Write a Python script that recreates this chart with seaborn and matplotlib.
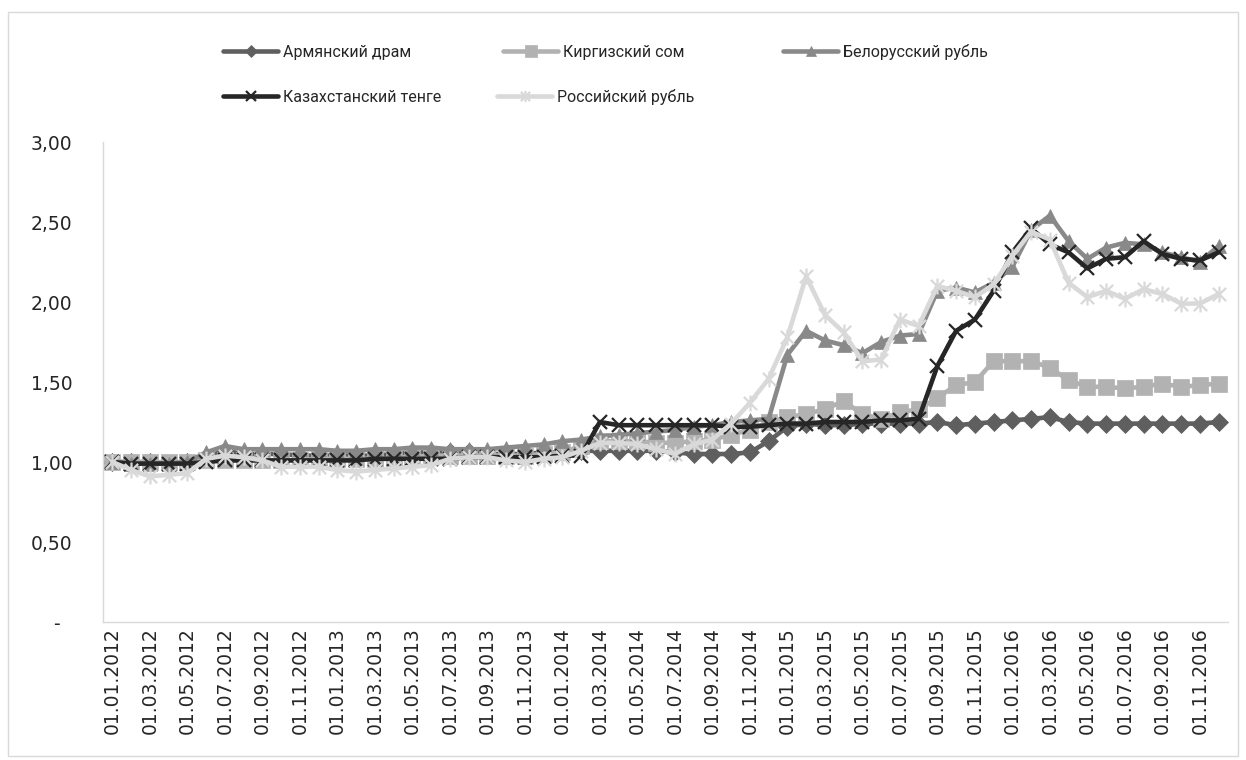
import numpy as np
import pandas as pd
import matplotlib
matplotlib.use("Agg")
import matplotlib.pyplot as plt
import seaborn as sns
from matplotlib.path import Path
from matplotlib.lines import Line2D
from matplotlib.patches import Rectangle
from matplotlib import font_manager

# ---------------- data ----------------
dates = pd.date_range("2012-01-01", periods=60, freq="MS").strftime("%d.%m.%Y").tolist()

armenian = [1.00, 1.00, 1.00, 0.99, 1.00, 1.03, 1.07, 1.05, 1.05, 1.05, 1.04, 1.04,
            1.04, 1.04, 1.04, 1.05, 1.06, 1.06, 1.06, 1.06, 1.05, 1.05, 1.05, 1.06,
            1.06, 1.07, 1.07, 1.07, 1.07, 1.07, 1.06, 1.05, 1.05, 1.05, 1.06, 1.13,
            1.22, 1.24, 1.23, 1.23, 1.24, 1.24, 1.24, 1.24, 1.25, 1.23, 1.24, 1.25,
            1.26, 1.27, 1.28, 1.25, 1.24, 1.24, 1.24, 1.24, 1.24, 1.24, 1.24, 1.25]

kyrgyz = [1.00, 1.00, 1.00, 1.00, 1.00, 1.01, 1.01, 1.01, 1.01, 1.01, 1.01, 1.02,
          1.02, 1.02, 1.02, 1.02, 1.03, 1.04, 1.04, 1.04, 1.04, 1.04, 1.04, 1.05,
          1.06, 1.10, 1.13, 1.13, 1.13, 1.12, 1.12, 1.13, 1.14, 1.17, 1.20, 1.25,
          1.28, 1.30, 1.33, 1.38, 1.30, 1.27, 1.31, 1.33, 1.40, 1.48, 1.50, 1.63,
          1.63, 1.63, 1.59, 1.51, 1.47, 1.47, 1.46, 1.47, 1.49, 1.47, 1.48, 1.49]

belarus = [1.00, 0.99, 0.99, 0.99, 1.00, 1.06, 1.10, 1.08, 1.08, 1.08, 1.08, 1.08,
           1.07, 1.07, 1.08, 1.08, 1.09, 1.09, 1.08, 1.08, 1.08, 1.09, 1.10, 1.11,
           1.13, 1.14, 1.16, 1.17, 1.18, 1.19, 1.20, 1.22, 1.23, 1.25, 1.26, 1.27,
           1.67, 1.82, 1.76, 1.73, 1.68, 1.75, 1.79, 1.80, 2.07, 2.09, 2.06, 2.12,
           2.22, 2.45, 2.54, 2.38, 2.27, 2.34, 2.37, 2.36, 2.31, 2.28, 2.25, 2.35]

kazakh = [1.00, 0.99, 0.99, 0.99, 0.99, 1.00, 1.01, 1.01, 1.01, 1.01, 1.01, 1.01,
          1.01, 1.01, 1.02, 1.02, 1.02, 1.02, 1.02, 1.03, 1.03, 1.03, 1.03, 1.03,
          1.04, 1.04, 1.25, 1.23, 1.23, 1.23, 1.23, 1.23, 1.23, 1.22, 1.22, 1.23,
          1.24, 1.24, 1.25, 1.25, 1.25, 1.26, 1.26, 1.27, 1.60, 1.82, 1.89, 2.07,
          2.31, 2.46, 2.36, 2.31, 2.21, 2.27, 2.28, 2.38, 2.30, 2.27, 2.26, 2.31]

russia = [1.00, 0.95, 0.91, 0.92, 0.93, 1.02, 1.04, 1.03, 1.01, 0.97, 0.97, 0.97,
          0.95, 0.94, 0.95, 0.96, 0.97, 0.98, 1.02, 1.03, 1.03, 1.01, 1.00, 1.02,
          1.03, 1.07, 1.12, 1.12, 1.11, 1.08, 1.05, 1.11, 1.14, 1.24, 1.37, 1.52,
          1.78, 2.16, 1.92, 1.81, 1.63, 1.64, 1.89, 1.85, 2.10, 2.07, 2.03, 2.11,
          2.29, 2.44, 2.39, 2.12, 2.03, 2.07, 2.02, 2.08, 2.05, 1.99, 1.99, 2.05]

series_names = ["Армянский драм", "Киргизский сом", "Белорусский рубль",
                "Казахстанский тенге", "Российский рубль"]
y_ticks = [0, 0.5, 1.0, 1.5, 2.0, 2.5, 3.0]
y_tick_labels = ["-  ", "0,50", "1,00", "1,50", "2,00", "2,50", "3,00"]

# ---------------- style ----------------
sns.set_theme(style="white")
plt.rcParams["font.family"] = ["Roboto", "DejaVu Sans"]

installed = {f.name for f in font_manager.fontManager.ttflist}
legend_family = ["Liberation Sans Narrow", "Roboto", "DejaVu Sans"]
legend_family = [f for f in legend_family if f in installed] or ["DejaVu Sans"]
legend_size = 12.5 if legend_family[0] == "Liberation Sans Narrow" else 11.5

W, H = 1246, 760
fig = plt.figure(figsize=(W / 100, H / 100), dpi=100)
ax = fig.add_axes([103 / W, 1 - 622 / H, (1228 - 103) / W, (622 - 142) / H])

star = Path([(-0.5, -0.5), (0.5, 0.5), (-0.5, 0.5), (0.5, -0.5), (0, -0.6), (0, 0.6)],
            [Path.MOVETO, Path.LINETO, Path.MOVETO, Path.LINETO, Path.MOVETO, Path.LINETO])

styles = [
    dict(color="#5f5f5f", marker="D", ms=9.0, mew=0.5),
    dict(color="#b2b2b2", marker="s", ms=12.0, mew=0.5),
    dict(color="#898989", marker="^", ms=10.5, mew=0.5),
    dict(color="#262626", marker="x", ms=10.5, mew=1.6),
    dict(color="#d9d9d9", marker=star, ms=11.5, mew=1.6),
]
all_values = [armenian, kyrgyz, belarus, kazakh, russia]
x = np.arange(len(dates))

for z, (vals, st) in enumerate(zip(all_values, styles)):
    sns.lineplot(x=x, y=vals, ax=ax, color=st["color"], linewidth=3.3,
                 marker=st["marker"], markersize=st["ms"], markeredgewidth=st["mew"],
                 markeredgecolor=st["color"], markerfacecolor=st["color"],
                 legend=False, zorder=2 + z)

tick_font = dict(family=["DejaVu Sans"], size=13.5)
ax.set_xlim(-0.5, len(dates) - 0.5)
ax.set_ylim(0, 3)
ax.set_xticks(x[::2])
ax.set_xticklabels(dates[::2], rotation=90, fontdict=tick_font)
ax.set_yticks(y_ticks)
ax.set_yticklabels(y_tick_labels, fontdict=tick_font)
ax.tick_params(axis="both", length=0, colors="#262626")
ax.tick_params(axis="x", pad=4)
ax.tick_params(axis="y", pad=22)
ax.set_xlabel("")
ax.set_ylabel("")
ax.grid(False)
for s in ["top", "right"]:
    ax.spines[s].set_visible(False)
for s in ["left", "bottom"]:
    ax.spines[s].set_color("#d9d9d9")
    ax.spines[s].set_linewidth(1.0)

# ---------------- legend (placed entry by entry) ----------------
leg_pos = [(223, 52), (503, 52), (783, 52), (223, 97), (497, 97)]
for name, st, (lx, ly) in zip(series_names, styles, leg_pos):
    h = Line2D([], [], color=st["color"], linewidth=3.3, marker=st["marker"],
               markersize=st["ms"] * 0.7, markeredgewidth=st["mew"],
               markeredgecolor=st["color"], markerfacecolor=st["color"])
    fig.legend(handles=[h], labels=[name], loc="center left",
               bbox_to_anchor=(lx / W, 1 - ly / H), frameon=False,
               handlelength=55 / (legend_size * 100 / 72), handletextpad=5 / (legend_size * 100 / 72),
               borderpad=0, borderaxespad=0,
               prop=dict(family=legend_family, size=legend_size))

fig.patches.append(Rectangle((8 / W, 4 / H), (1238 - 8) / W, (748 - 4) / H,
                             transform=fig.transFigure, fill=False,
                             edgecolor="#d9d9d9", linewidth=1.0))

fig.savefig("out.png", dpi=100, facecolor="white")
